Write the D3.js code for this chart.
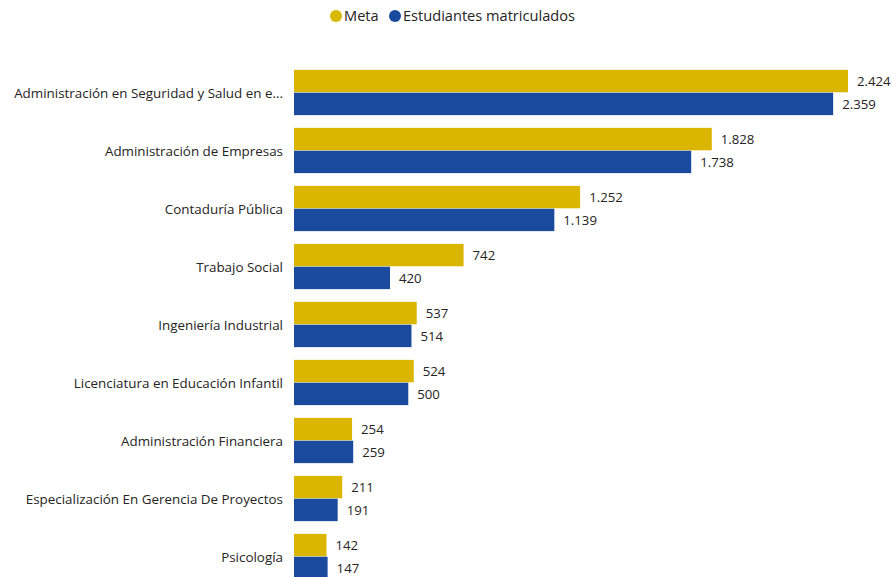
<!DOCTYPE html>
<html>
<head>
<meta charset="utf-8">
<script src="https://cdn.jsdelivr.net/npm/d3@7"></script>
<style>
  body { margin: 0; background: #fff; }
  svg text { font-family: "Segoe UI", "Open Sans", "Noto Sans", sans-serif; }
</style>
</head>
<body>
<div id="chart"></div>
<script>
// Data
const categories = [
    "Administración en Seguridad y Salud en e...",
    "Administración de Empresas",
    "Contaduría Pública",
    "Trabajo Social",
    "Ingeniería Industrial",
    "Licenciatura en Educación Infantil",
    "Administración Financiera",
    "Especialización En Gerencia De Proyectos",
    "Psicología"
];
const meta = [2424, 1828, 1252, 742, 537, 524, 254, 211, 142];
const matriculados = [2359, 1738, 1139, 420, 514, 500, 259, 191, 147];
const seriesNames = ["Meta", "Estudiantes matriculados"];
const seriesColors = ["#DAB600", "#1A4A9D"];

const width = 892, height = 577;

const svg = d3.select("#chart").append("svg")
    .attr("width", width)
    .attr("height", height);

// Scales
const x = d3.scaleLinear().domain([0, d3.max(meta)]).range([294, 848]);
const y = d3.scaleBand().domain(categories)
    .range([63.5, 63.5 + categories.length * 58])
    .paddingInner(0.22).paddingOuter(0.11);
const ySub = d3.scaleBand().domain([0, 1]).range([0, y.bandwidth()]).paddingInner(0.02);

const fmt = d3.formatLocale({ decimal: ",", thousands: ".", grouping: [3], currency: ["$", ""] }).format(",d");

// Category axis
const yAxis = d3.axisLeft(y).tickSize(0).tickPadding(11);
svg.append("g")
    .attr("class", "y axis")
    .attr("transform", "translate(294,0)")
    .call(yAxis)
    .call(g => g.select(".domain").remove())
    .selectAll("text")
        .attr("font-size", 13.4)
        .attr("fill", "#252423")
        .attr("dy", "0.4em")
        .style("font-family", "'Segoe UI', 'Open Sans', 'Noto Sans', sans-serif");

// Bars
const rows = categories.map((c, i) => ({ cat: c, vals: [meta[i], matriculados[i]] }));
const groups = svg.selectAll("g.group")
    .data(rows)
    .enter()
    .append("g")
        .attr("class", "group")
        .attr("transform", d => "translate(0," + y(d.cat) + ")");

groups.selectAll("rect")
    .data(d => d.vals)
    .enter()
    .append("rect")
        .attr("x", x(0))
        .attr("y", (d, i) => ySub(i))
        .attr("width", d => x(d) - x(0))
        .attr("height", ySub.bandwidth())
        .attr("fill", (d, i) => seriesColors[i]);

groups.selectAll("text.value")
    .data(d => d.vals)
    .enter()
    .append("text")
        .attr("class", "value")
        .attr("x", d => x(d) + 9)
        .attr("y", (d, i) => ySub(i) + ySub.bandwidth() / 2)
        .attr("dy", "0.38em")
        .attr("font-size", 13.2)
        .attr("fill", "#252423")
        .text(d => fmt(d));

// Legend
const legend = svg.append("g").attr("class", "legend");
const legendX = [336, 395];
seriesNames.forEach((name, i) => {
    legend.append("circle")
        .attr("cx", legendX[i])
        .attr("cy", 16)
        .attr("r", 6)
        .attr("fill", seriesColors[i]);
    legend.append("text")
        .attr("x", legendX[i] + 8)
        .attr("y", 16)
        .attr("dy", "0.36em")
        .attr("font-size", 14.6)
        .attr("fill", "#252423")
        .text(name);
});
</script>
</body>
</html>
